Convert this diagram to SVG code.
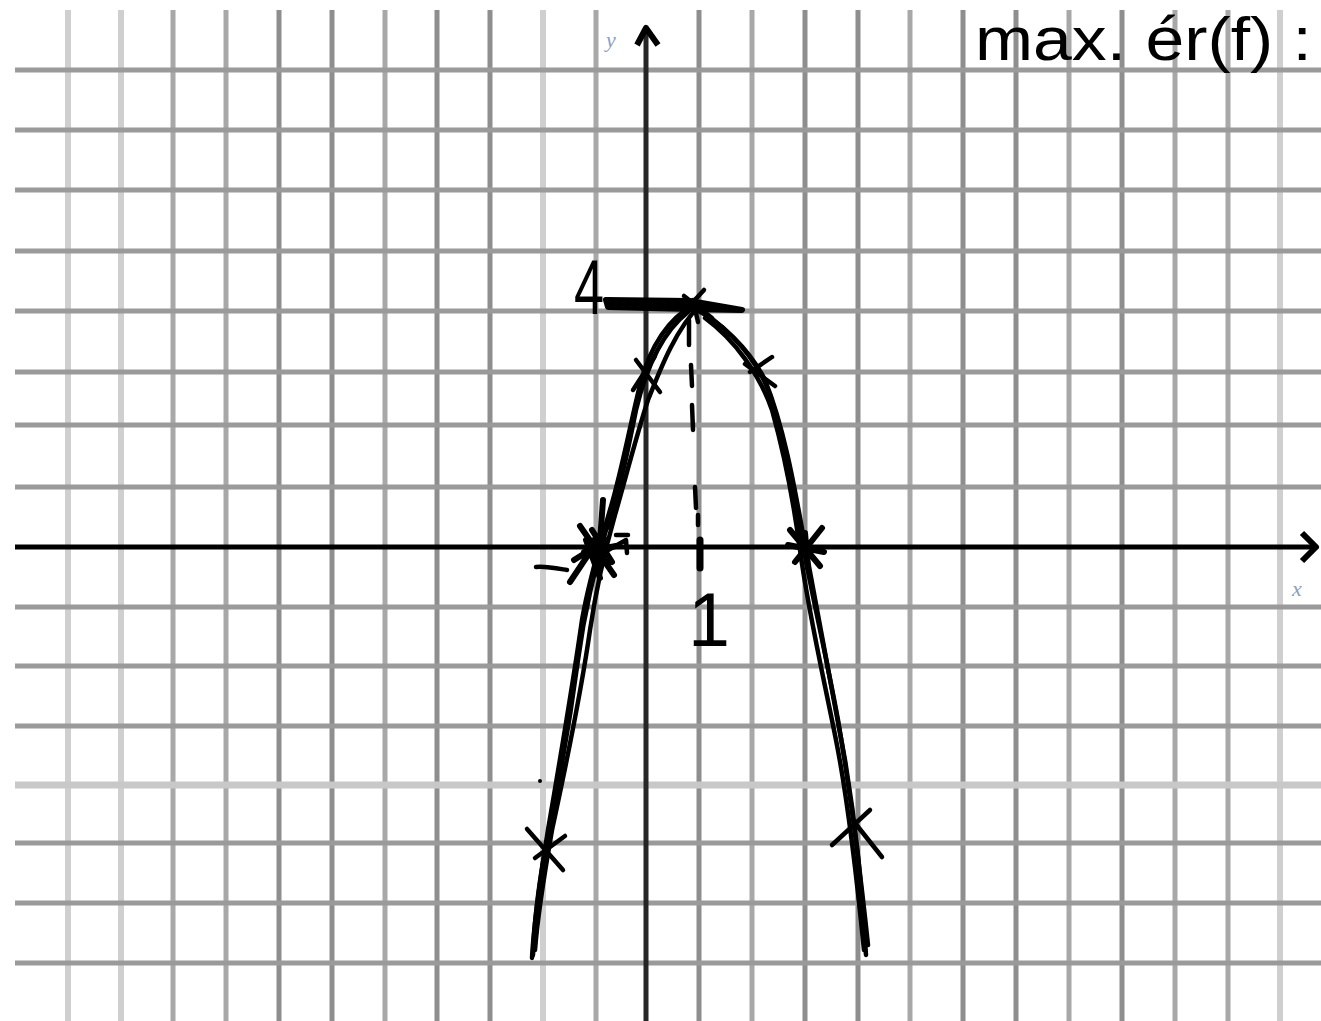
<svg xmlns="http://www.w3.org/2000/svg" width="1321" height="1021" viewBox="0 0 1321 1021">
<style>
.h{stroke:#9a9a9a;stroke-width:5}
.vl{stroke:#cfcfcf;stroke-width:6}
.vm{stroke:#a8a8a8;stroke-width:5}
.vd{stroke:#8e8e8e;stroke-width:5}
.ink{fill:none;stroke:#000;stroke-width:4.5;stroke-linecap:round;stroke-linejoin:round}
.thick{fill:none;stroke:#000;stroke-width:6;stroke-linecap:round;stroke-linejoin:round}
.hand{font-family:"Liberation Sans","DejaVu Sans",sans-serif;fill:#000}
.lbl{font-family:"Liberation Serif",serif;font-style:italic;font-size:22px;fill:#8aa0bf}
</style>
<rect width="1321" height="1021" fill="#fff"/>
<g id="grid">
<line class="vl" x1="68" y1="10" x2="68" y2="1021"/>
<line class="vl" x1="121" y1="10" x2="121" y2="1021"/>
<line class="vm" x1="173" y1="10" x2="173" y2="1021"/>
<line class="vm" x1="226" y1="10" x2="226" y2="1021"/>
<line class="vd" x1="279" y1="10" x2="279" y2="1021"/>
<line class="vd" x1="332" y1="10" x2="332" y2="1021"/>
<line class="vm" x1="385" y1="10" x2="385" y2="1021"/>
<line class="vd" x1="437" y1="10" x2="437" y2="1021"/>
<line class="vd" x1="490" y1="10" x2="490" y2="1021"/>
<line class="vl" x1="543" y1="10" x2="543" y2="1021"/>
<line class="vm" x1="596" y1="10" x2="596" y2="1021"/>
<line class="vd" x1="699" y1="10" x2="699" y2="1021"/>
<line class="vm" x1="752" y1="10" x2="752" y2="1021"/>
<line class="vd" x1="805" y1="10" x2="805" y2="1021"/>
<line class="vd" x1="858" y1="10" x2="858" y2="1021"/>
<line class="vm" x1="910" y1="10" x2="910" y2="1021"/>
<line class="vd" x1="963" y1="10" x2="963" y2="1021"/>
<line class="vd" x1="1016" y1="10" x2="1016" y2="1021"/>
<line class="vm" x1="1069" y1="10" x2="1069" y2="1021"/>
<line class="vd" x1="1122" y1="10" x2="1122" y2="1021"/>
<line class="vm" x1="1175" y1="10" x2="1175" y2="1021"/>
<line class="vm" x1="1228" y1="10" x2="1228" y2="1021"/>
<line class="vl" x1="1280" y1="10" x2="1280" y2="1021"/>
<line class="h" x1="15" y1="70" x2="1321" y2="70"/>
<line class="h" x1="15" y1="130" x2="1321" y2="130"/>
<line class="h" x1="15" y1="190" x2="1321" y2="190"/>
<line class="h" x1="15" y1="251" x2="1321" y2="251"/>
<line class="h" x1="15" y1="311" x2="1321" y2="311"/>
<line class="h" x1="15" y1="372" x2="1321" y2="372"/>
<line class="h" x1="15" y1="425" x2="1321" y2="425"/>
<line class="h" x1="15" y1="487" x2="1321" y2="487"/>
<line class="h" x1="15" y1="607" x2="1321" y2="607"/>
<line class="h" x1="15" y1="666" x2="1321" y2="666"/>
<line class="h" x1="15" y1="726" x2="1321" y2="726"/>
<line style="stroke:#c8c8c8;stroke-width:7" x1="15" y1="785" x2="1321" y2="785"/>
<line class="h" x1="15" y1="843" x2="1321" y2="843"/>
<line class="h" x1="15" y1="903" x2="1321" y2="903"/>
<line class="h" x1="15" y1="963" x2="1321" y2="963"/>
</g>
<g id="axes">
<line x1="646" y1="28" x2="646" y2="1021" stroke="#262626" stroke-width="5"/>
<path d="M637,45 L646,28 L658,45" fill="none" stroke="#000" stroke-width="6" stroke-linejoin="round"/>
<line x1="15" y1="547" x2="1314" y2="547" stroke="#000" stroke-width="5"/>
<path d="M1302,533 L1316,547 L1302,561" fill="none" stroke="#000" stroke-width="6" stroke-linejoin="round"/>
<text class="lbl" x="606" y="47">y</text>
<text class="lbl" x="1292" y="596">x</text>
</g>
<g id="curve">
<path class="ink" d="M692,306 C670,318 650,345 640,385 C630,425 622,470 610,510 C600,545 590,575 582,620 C572,690 560,760 548,830 C540,880 534,920 532,958"/>
<path class="ink" d="M700,305 C675,330 660,370 648,400 C638,430 625,480 615,515 C605,550 596,590 590,630 C580,700 565,770 552,830 C545,870 538,910 535,950"/>
<path class="ink" d="M688,312 C665,330 648,360 636,410 C628,450 620,490 606,530 C598,560 586,600 578,660 C570,720 560,780 545,850 C538,890 534,925 533,955"/>
<path class="ink" d="M692,308 C720,320 750,350 765,380 C785,430 795,490 805,545 C815,600 830,680 845,760 C855,820 862,880 866,955"/>
<path class="ink" d="M700,310 C730,330 758,360 770,395 C785,440 797,500 803,545 C813,600 825,650 838,720 C850,790 858,850 868,945"/>
<path class="ink" d="M705,318 C735,340 760,375 772,410 C786,460 794,505 800,550 C808,610 822,670 836,740 C848,800 856,870 864,950"/>
</g>
<g id="marks">
<path d="M606,300 L690,301 L742,310 L690,309 L608,307 Z" fill="#000" stroke="#000" stroke-width="6" stroke-linejoin="round"/>
<path class="ink" d="M680,316 L704,290 M684,296 L712,318 M693,300 L698,322"/>
<path class="ink" d="M636,360 L660,392 M655,356 L633,390"/>
<path class="ink" d="M750,372 L772,357 M745,364 L775,386"/>
<path class="ink" d="M527,829 L563,870 M535,858 L565,836"/>
<path class="ink" d="M832,845 L870,810 M855,823 L882,857"/>
<path class="thick" d="M790,530 L820,566 M795,562 L822,528 M788,545 L824,552 M805,533 L808,568"/>
<path class="thick" d="M580,526 L614,575 M570,582 L610,522 M586,540 L600,578 M603,500 L598,570 M592,530 L612,562 M584,552 L616,546 M574,560 L606,540"/>
<circle cx="598" cy="547" r="11" fill="#000"/>
<path class="ink" d="M603,553 L626,540 L627,553 M616,535 L628,535"/>
<path class="ink" d="M689,320 L689,345 M691,365 L692,386 M692,405 L693,430 M695,487 L696,508 M698,515 L698,525"/>
<line x1="700" y1="540" x2="700" y2="568" stroke="#000" stroke-width="7" stroke-linecap="round"/>
<path class="ink" d="M536,567 C545,566 555,568 567,570"/>
<circle cx="540" cy="781" r="2" fill="#000"/>
</g>
<g id="labels">
<text class="hand" x="574" y="314" font-size="78" textLength="30" lengthAdjust="spacingAndGlyphs">4</text>
<text class="hand" x="688" y="646" font-size="76" textLength="42" lengthAdjust="spacingAndGlyphs">1</text>
<text class="hand" x="975" y="60" font-size="62" textLength="337" lengthAdjust="spacingAndGlyphs">max. ér(f) :</text>
</g>
</svg>
